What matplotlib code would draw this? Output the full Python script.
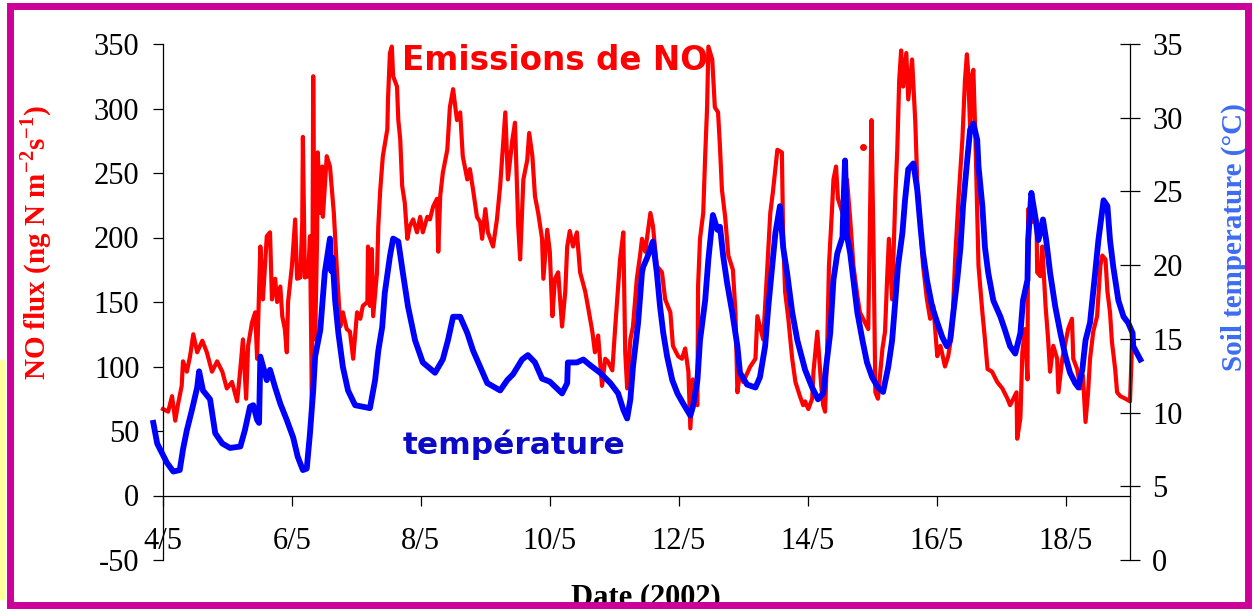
import matplotlib
matplotlib.use('Agg')
import matplotlib.pyplot as plt
from matplotlib.patches import Rectangle

# Flux de NO (ng N m-2 s-1) -- jour de mai 2002
no_jour = [4.00, 4.08, 4.14, 4.19, 4.23, 4.29, 4.31, 4.37, 4.42, 4.47, 4.53, 4.61, 4.68, 4.76, 4.84,
           4.92, 4.99, 5.07, 5.15, 5.19, 5.24, 5.29, 5.32, 5.38, 5.43, 5.46, 5.51, 5.55, 5.61, 5.66,
           5.69, 5.74, 5.77, 5.82, 5.85, 5.89, 5.92, 5.94, 6.00, 6.05, 6.08, 6.13, 6.16, 6.17, 6.20,
           6.25, 6.28, 6.31, 6.33, 6.36, 6.39, 6.40, 6.44, 6.47, 6.48, 6.51, 6.54, 6.59, 6.62, 6.65,
           6.70, 6.75, 6.79, 6.85, 6.90, 6.95, 7.01, 7.06, 7.10, 7.17, 7.18, 7.21, 7.24, 7.26, 7.32,
           7.34, 7.37, 7.41, 7.48, 7.49, 7.52, 7.55, 7.57, 7.63, 7.65, 7.68, 7.71, 7.75, 7.79, 7.83,
           7.88, 7.94, 7.99, 8.03, 8.10, 8.14, 8.19, 8.25, 8.27, 8.30, 8.34, 8.41, 8.45, 8.50, 8.56,
           8.61, 8.65, 8.72, 8.76, 8.81, 8.87, 8.92, 8.95, 9.00, 9.04, 9.12, 9.18, 9.23, 9.28, 9.31,
           9.35, 9.42, 9.46, 9.51, 9.54, 9.59, 9.65, 9.68, 9.73, 9.77, 9.82, 9.88, 9.90, 9.96, 10.00,
           10.04, 10.08, 10.13, 10.19, 10.24, 10.27, 10.31, 10.36, 10.42, 10.47, 10.55, 10.59, 10.66,
           10.70, 10.75, 10.81, 10.86, 10.90, 10.97, 11.01, 11.06, 11.09, 11.14, 11.17, 11.20, 11.25,
           11.29, 11.35, 11.40, 11.43, 11.48, 11.56, 11.60, 11.66, 11.74, 11.79, 11.87, 11.91, 11.99,
           12.05, 12.10, 12.15, 12.18, 12.22, 12.29, 12.30, 12.33, 12.38, 12.41, 12.44, 12.46, 12.52,
           12.56, 12.61, 12.64, 12.67, 12.72, 12.77, 12.84, 12.88, 12.91, 12.95, 13.00, 13.11, 13.19,
           13.22, 13.26, 13.31, 13.37, 13.42, 13.46, 13.53, 13.60, 13.62, 13.65, 13.70, 13.76, 13.81,
           13.88, 13.93, 13.96, 14.01, 14.07, 14.09, 14.15, 14.21, 14.24, 14.27, 14.30, 14.33, 14.38,
           14.40, 14.44, 14.47, 14.54, 14.58, 14.61, 14.66, 14.71, 14.77, 14.81, 14.94, 14.99, 15.02,
           15.05, 15.09, 15.16, 15.20, 15.23, 15.26, 15.31, 15.36, 15.39, 15.42, 15.45, 15.48, 15.53,
           15.56, 15.62, 15.67, 15.70, 15.75, 15.79, 15.85, 15.90, 15.95, 16.01, 16.06, 16.13, 16.18,
           16.24, 16.29, 16.34, 16.40, 16.44, 16.47, 16.49, 16.52, 16.55, 16.57, 16.60, 16.65, 16.71,
           16.75, 16.79, 16.86, 16.94, 17.02, 17.10, 17.14, 17.19, 17.24, 17.25, 17.30, 17.33, 17.37,
           17.41, 17.42, 17.48, 17.55, 17.56, 17.61, 17.64, 17.69, 17.73, 17.76, 17.81, 17.87, 17.89,
           17.95, 18.04, 18.10, 18.12, 18.18, 18.23, 18.27, 18.31, 18.35, 18.38, 18.43, 18.49, 18.54,
           18.57, 18.62, 18.65, 18.69, 18.72, 18.77, 18.80, 18.85, 18.93, 19.00, 19.03]
no_flux = [67, 65, 77, 58, 70, 85, 104, 96, 108, 125, 111, 120, 111, 96, 104,
           96, 83, 88, 73, 93, 121, 75, 116, 134, 142, 106, 193, 152, 201, 204,
           152, 168, 150, 162, 139, 129, 111, 150, 178, 214, 168, 169, 212, 278, 169,
           170, 201, 70, 325, 121, 199, 266, 219, 255, 216, 240, 263, 255, 237, 219,
           173, 131, 142, 129, 127, 106, 142, 137, 147, 150, 193, 147, 191, 139, 173,
           209, 237, 263, 284, 307, 343, 348, 325, 317, 291, 276, 240, 227, 199, 209,
           214, 204, 216, 204, 216, 214, 224, 230, 189, 232, 250, 268, 301, 315, 291,
           297, 263, 245, 253, 237, 216, 212, 199, 222, 204, 193, 214, 240, 276, 297,
           245, 276, 289, 209, 183, 245, 260, 281, 263, 232, 219, 199, 168, 206, 189,
           139, 168, 173, 131, 158, 193, 205, 193, 204, 173, 158, 147, 127,
           111, 124, 85, 106, 104, 97, 127, 162, 183, 204, 111, 83, 121,
           131, 168, 186, 199, 189, 219, 209, 178, 173, 152, 142, 116, 108,
           106, 114, 96, 52, 90, 70, 162, 199, 219, 263, 301, 348, 338,
           301, 297, 270, 237, 216, 186, 175, 142, 80, 96, 88, 100, 106,
           139, 131, 121, 173, 219, 235, 268, 266, 199, 158, 137, 106, 88,
           77, 70, 73, 67, 75, 96, 127, 85, 70, 65, 108, 178, 224,
           245, 255, 230, 219, 230, 245, 214, 178, 155, 142, 129, 291, 199,
           80, 75, 114, 127, 165, 199, 152, 232, 268, 322, 345, 317, 343,
           307, 338, 289, 243, 209, 178, 152, 137, 147, 108, 116, 100, 108,
           127, 186, 230, 276, 322, 342, 328, 284, 325, 330, 281, 178, 142,
           121, 98, 96, 88, 83, 75, 70, 75, 80, 44, 60, 111, 129,
           90, 222, 212, 214, 173, 170, 193, 147, 121, 96, 116, 106, 80,
           106, 129, 137, 106, 98, 83, 93, 57, 80, 106, 127, 139, 178,
           186, 183, 158, 142, 119, 98, 80, 77, 75, 73, 115]
no_pt_jour = [14.86]
no_pt_flux = [270]

# Temperature du sol (degres C)
t_jour = [3.85, 3.91, 4.06, 4.16, 4.26, 4.31, 4.37, 4.45, 4.53, 4.56, 4.62, 4.73, 4.81, 4.92, 5.04,
          5.20, 5.27, 5.35, 5.40, 5.46, 5.49, 5.51, 5.61, 5.66, 5.74, 5.82, 5.92, 6.02, 6.09, 6.17,
          6.23, 6.28, 6.33, 6.36, 6.44, 6.48, 6.51, 6.59, 6.61, 6.63, 6.67, 6.72, 6.79, 6.87, 6.98,
          7.21, 7.29, 7.34, 7.40, 7.44, 7.52, 7.57, 7.65, 7.72, 7.80, 7.91, 8.03, 8.22, 8.34, 8.42,
          8.50, 8.61, 8.72, 8.81, 8.92, 9.03, 9.23, 9.34, 9.43, 9.57, 9.66, 9.77, 9.88, 10.00, 10.19,
          10.27, 10.28, 10.42, 10.52, 10.63, 10.78, 10.94, 11.06, 11.14, 11.20, 11.25, 11.29, 11.37,
          11.43, 11.45, 11.51, 11.59, 11.60, 11.66, 11.71, 11.76, 11.82, 11.90, 11.98, 12.07, 12.18,
          12.22, 12.29, 12.33, 12.41, 12.46, 12.53, 12.60, 12.64, 12.69, 12.75, 12.83, 12.91, 12.95,
          13.06, 13.19, 13.26, 13.34, 13.39, 13.45, 13.50, 13.57, 13.62, 13.68, 13.76, 13.84, 13.93,
          13.96, 14.07, 14.16, 14.24, 14.30, 14.35, 14.40, 14.46, 14.54, 14.55, 14.58, 14.61, 14.66,
          14.71, 14.77, 14.85, 14.92, 15.00, 15.09, 15.17, 15.25, 15.31, 15.36, 15.40, 15.47, 15.51,
          15.56, 15.64, 15.70, 15.75, 15.79, 15.85, 15.93, 16.01, 16.09, 16.16, 16.21, 16.26, 16.32,
          16.37, 16.41, 16.47, 16.52, 16.57, 16.63, 16.65, 16.71, 16.75, 16.80, 16.88, 16.99, 17.06,
          17.14, 17.22, 17.30, 17.34, 17.41, 17.42, 17.47, 17.53, 17.58, 17.65, 17.70, 17.76, 17.84,
          17.92, 18.00, 18.07, 18.15, 18.20, 18.26, 18.31, 18.38, 18.46, 18.51, 18.59, 18.65, 18.69,
          18.74, 18.82, 18.90, 18.97, 19.04, 19.05, 19.16]
t_sol = [9.3, 7.9, 6.6, 6.0, 6.1, 7.5, 8.8, 10.2, 11.7, 12.8, 11.5, 10.9, 8.6, 7.9, 7.6,
         7.7, 8.8, 10.4, 10.5, 9.5, 9.3, 13.8, 12.2, 12.9, 11.7, 10.6, 9.5, 8.3, 7.0, 6.1,
         6.2, 8.6, 11.5, 13.8, 15.6, 17.8, 19.5, 21.8, 19.6, 20.5, 17.6, 15.4, 13.1, 11.5, 10.5,
         10.3, 12.2, 14.2, 15.8, 18.1, 20.6, 21.8, 21.6, 19.5, 17.2, 14.9, 13.4, 12.7, 13.6, 14.9,
         16.5, 16.5, 15.4, 14.2, 13.1, 12.0, 11.5, 12.2, 12.6, 13.6, 13.9, 13.4, 12.3, 12.1, 11.3,
         12.0, 13.4, 13.4, 13.6, 13.2, 12.7, 12.0, 11.3, 10.2, 9.6, 10.9, 13.1, 16.1,
         19.5, 19.9, 20.5, 21.5, 21.6, 19.5, 17.2, 15.4, 13.8, 12.2, 11.3, 10.6, 9.8,
         10.4, 12.2, 14.9, 17.6, 20.4, 23.4, 22.4, 22.6, 20.6, 18.8, 16.8, 14.5, 12.7,
         11.9, 11.7, 12.4, 14.5, 17.2, 19.9, 22.2, 24.0, 21.2, 19.5, 16.8, 14.9, 13.4,
         12.9, 11.7, 10.9, 11.3, 13.6, 15.4, 19.0, 20.8, 21.9, 23.5, 27.1, 22.0, 20.8,
         19.0, 16.8, 14.9, 13.4, 12.4, 11.7, 11.4, 13.1, 14.9, 17.6, 19.9, 22.2, 24.4,
         26.5, 26.9, 25.1, 22.6, 20.8, 19.0, 17.2, 16.1, 15.1, 14.5, 14.9, 16.8, 19.0,
         21.2, 24.0, 26.9, 29.2, 29.6, 28.5, 26.7, 24.0, 21.2, 19.5, 17.6, 16.5, 15.6,
         14.5, 14.0, 15.4, 17.6, 19.0, 21.7, 24.9, 23.3, 21.7, 23.1, 21.7, 19.5, 17.2,
         15.4, 13.8, 12.7, 12.0, 11.7, 12.9, 14.9, 16.1, 19.5, 21.7, 24.4, 24.0, 21.7,
         19.9, 17.6, 16.5, 16.1, 15.4, 14.5, 13.6]

dates = [4, 6, 8, 10, 12, 14, 16, 18]
dates_txt = ['4/5', '6/5', '8/5', '10/5', '12/5', '14/5', '16/5', '18/5']

plt.rcParams['font.family'] = 'Liberation Serif'
plt.rcParams['axes.unicode_minus'] = False
plt.rcParams['mathtext.fontset'] = 'custom'
plt.rcParams['mathtext.rm'] = 'Liberation Serif:bold'
plt.rcParams['mathtext.bf'] = 'Liberation Serif:bold'

W, H = 1253, 609
fig = plt.figure(figsize=(W / 100, H / 100), dpi=100)
ax = fig.add_axes([163 / W, 1 - 560 / H, 967 / W, 516 / H])
ax2 = ax.twinx()

ax.plot(no_jour, no_flux, '-', color='#ff0000', lw=3, clip_on=False)
ax.plot(no_pt_jour, no_pt_flux, 'o', color='#ff0000', ms=4, clip_on=False)
ax2.plot(t_jour, t_sol, '-', color='#0000ff', lw=4.2, clip_on=False)

ax.set_xlim(4, 19)
ax.set_ylim(-50, 350)
ax.set_yticks(range(-50, 351, 50))
ax2.set_ylim(0, 35)
ax2.set_yticks(range(0, 36, 5))
ax.set_xticks(dates)
ax.set_xticklabels(dates_txt)

ax.patch.set_visible(False)
ax2.patch.set_visible(False)
ax.spines['top'].set_visible(False)
ax2.spines['top'].set_visible(False)
ax.spines['right'].set_visible(False)
ax2.spines['left'].set_visible(False)
ax2.spines['bottom'].set_visible(False)
ax.spines['bottom'].set_position(('data', 0))
for s in ['left', 'bottom']:
    ax.spines[s].set_linewidth(0.9)
ax2.spines['right'].set_linewidth(0.9)

ax.tick_params(axis='y', direction='out', length=7, width=0.9, labelsize=22, pad=10)
ax.tick_params(axis='x', direction='out', length=7, width=0.9, labelsize=22, pad=16)
ax2.tick_params(axis='y', direction='inout', length=14, width=0.9, labelsize=22, pad=9)

ax.set_ylabel(r'NO flux (ng N m$^{\mathbf{-2}}$s$^{\mathbf{-1}}$)', color='#ff0000',
              fontsize=21, fontweight='bold')
ax.yaxis.set_label_coords(-0.113, 0.615)
ax2.set_ylabel('Soil temperature (°C)', color='#3d6cf2', fontsize=21, fontweight='bold',
               rotation=90)
ax2.yaxis.set_label_coords(1.094, 0.626)

fig.text(646 / W, 1 - 583 / H, 'Date (2002)', ha='center', va='top', fontsize=22,
         fontweight='bold')

fig.text(402 / W, 1 - 60 / H, 'Emissions de NO', color='#ff0000', fontsize=23.5,
         fontweight='bold', family='DejaVu Sans', va='center', ha='left')
fig.text(403 / W, 1 - 445 / H, 'température', color='#0a0ac8', fontsize=22.5,
         fontweight='bold', family='DejaVu Sans', va='center', ha='left')

# cadre magenta
fig.add_artist(Rectangle((0, 9 / H), 5 / W, 240 / H, transform=fig.transFigure,
                         facecolor='#ffff99', edgecolor='none', zorder=1))
fig.add_artist(Rectangle((10 / W, 1 - 605 / H), 1238 / W, 599 / H, transform=fig.transFigure,
                         fill=False, edgecolor='#cc0099', lw=5, zorder=20))

fig.savefig('out.png', dpi=100)
